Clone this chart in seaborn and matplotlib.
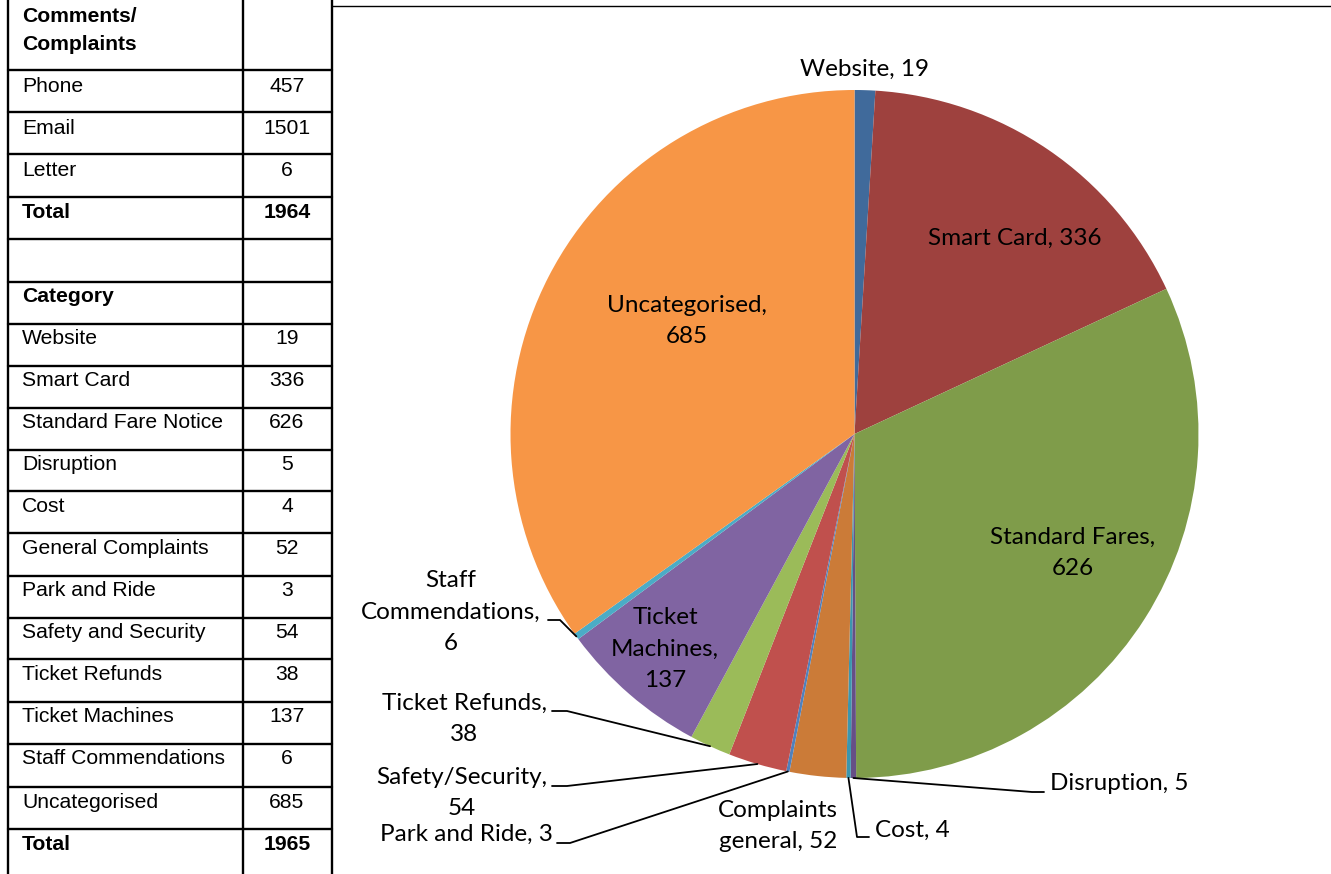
import matplotlib
matplotlib.use("Agg")
import matplotlib.pyplot as plt
import numpy as np
import seaborn as sns
from matplotlib.lines import Line2D

# table: how comments arrived
channel_labels = ["Phone", "Email", "Letter"]
channel_counts = [457, 1501, 6]
channel_total = 1964

# table + pie: categories (same order in both)
category_labels = [
    "Website", "Smart Card", "Standard Fare Notice", "Disruption", "Cost",
    "General Complaints", "Park and Ride", "Safety and Security",
    "Ticket Refunds", "Ticket Machines", "Staff Commendations", "Uncategorised",
]
category_counts = [19, 336, 626, 5, 4, 52, 3, 54, 38, 137, 6, 685]
category_total = 1965

pie_names = [
    "Website", "Smart Card", "Standard Fares", "Disruption", "Cost",
    "Complaints\ngeneral", "Park and Ride", "Safety/Security",
    "Ticket Refunds", "Ticket\nMachines", "Staff\nCommendations", "Uncategorised",
]
pie_colors = [
    "#406A9B", "#9E413E", "#7F9C4A", "#664F86", "#3C96AE", "#CB7B38",
    "#4F81BD", "#C0504D", "#9BBB59", "#8064A2", "#4BACC6", "#F79646",
]

W, H = 1331, 874
sns.set_theme(style="white")
plt.rcParams["font.family"] = ["Liberation Sans", "DejaVu Sans"]
plt.rcParams["text.color"] = "black"

fig = plt.figure(figsize=(W / 100, H / 100), dpi=100)
fig.patch.set_facecolor("white")


def fx(x):
    return x / W


def fy(y):
    return 1 - y / H


# ---------------- table on the left ----------------
col_x = [8, 243, 332]
row_lines = [70, 112, 154, 197, 239, 282, 324, 366, 408, 450, 491, 533,
             576, 618, 659, 702, 744, 787, 829]
lw = 1.7
for x in col_x:
    fig.add_artist(Line2D([fx(x), fx(x)], [fy(0), fy(H)], color="black", lw=lw))
for y in row_lines:
    fig.add_artist(Line2D([fx(col_x[0]), fx(col_x[2])], [fy(y), fy(y)], color="black", lw=lw))
# top border of chart area
fig.add_artist(Line2D([fx(332), fx(W)], [fy(6), fy(6)], color="black", lw=1.0))

tfs = 15.2
txt_x, val_x = 22, 287
fig.text(fx(txt_x), fy(16), "Comments/", fontsize=tfs, weight="bold", va="center")
fig.text(fx(txt_x), fy(44), "Complaints", fontsize=tfs, weight="bold", va="center")

rows = list(zip(channel_labels, channel_counts)) + [("Total", channel_total)]
for i, (lab, val) in enumerate(rows):
    top = row_lines[i]
    bold = "bold" if lab == "Total" else "normal"
    fig.text(fx(txt_x), fy(top + 16), lab, fontsize=tfs, weight=bold, va="center")
    fig.text(fx(val_x), fy(top + 16), str(val), fontsize=tfs, weight=bold, va="center", ha="center")

fig.text(fx(txt_x), fy(row_lines[5] + 14), "Category", fontsize=tfs, weight="bold", va="center")
rows = list(zip(category_labels, category_counts)) + [("Total", category_total)]
for i, (lab, val) in enumerate(rows):
    top = row_lines[6 + i]
    bold = "bold" if lab == "Total" else "normal"
    fig.text(fx(txt_x), fy(top + 15), lab, fontsize=tfs, weight=bold, va="center")
    fig.text(fx(val_x), fy(top + 15), str(val), fontsize=tfs, weight=bold, va="center", ha="center")

# ---------------- pie on the right ----------------
cx, cy, r = 854.5, 434, 344
ax = fig.add_axes([fx(cx - r), fy(cy + r), 2 * r / W, 2 * r / H])
palette = sns.color_palette(pie_colors)
wedges, _ = ax.pie(category_counts, colors=palette, startangle=90, counterclock=False,
                   radius=1, wedgeprops=dict(linewidth=0))
ax.set_xlim(-1, 1)
ax.set_ylim(-1, 1)
ax.axis("off")


def d(px, py):
    return (px - cx) / r, (cy - py) / r


# label centre (pixels), alignment, optional leader elbow + end (pixels)
label_layout = {
    "Website": ((865, 69), "center", None),
    "Smart Card": ((1015, 238), "center", None),
    "Standard Fares": ((1073, 553), "center", None),
    "Disruption": ((1050, 784), "left", [(1032, 792), (1044, 792)]),
    "Cost": ((875, 830), "left", [(857, 837), (869, 837)]),
    "Complaints\ngeneral": ((778, 826), "center", None),
    "Park and Ride": ((466, 834), "center", [(570, 843), (557, 843)]),
    "Safety/Security": ((462, 793), "center", [(567, 786), (552, 786)]),
    "Ticket Refunds": ((464, 719), "center", [(567, 711), (552, 711)]),
    "Ticket\nMachines": ((665, 649), "center", None),
    "Staff\nCommendations": ((451, 612), "center", [(560, 620), (548, 620)]),
    "Uncategorised": ((687, 321), "center", None),
}
wrap_value = {"Uncategorised", "Standard Fares", "Ticket\nMachines",
              "Staff\nCommendations", "Ticket Refunds", "Safety/Security"}

lfs = 17.5
lab_font = ["Lato", "DejaVu Sans"]
for w, name, val in zip(wedges, pie_names, category_counts):
    (px, py), ha, leader = label_layout[name]
    sep = ",\n" if name in wrap_value else ", "
    ax.text(*d(px, py), f"{name}{sep}{val}", ha=ha, va="center", fontsize=lfs,
            family=lab_font, linespacing=1.6, multialignment="center",
            color="black", clip_on=False)
    if leader:
        mid = np.deg2rad((w.theta1 + w.theta2) / 2)
        pts = [(np.cos(mid), np.sin(mid))] + [d(*p) for p in leader]
        xs, ys = zip(*pts)
        ax.plot(xs, ys, color="black", lw=1.3, clip_on=False)

fig.savefig("out.png", dpi=100, facecolor="white")
